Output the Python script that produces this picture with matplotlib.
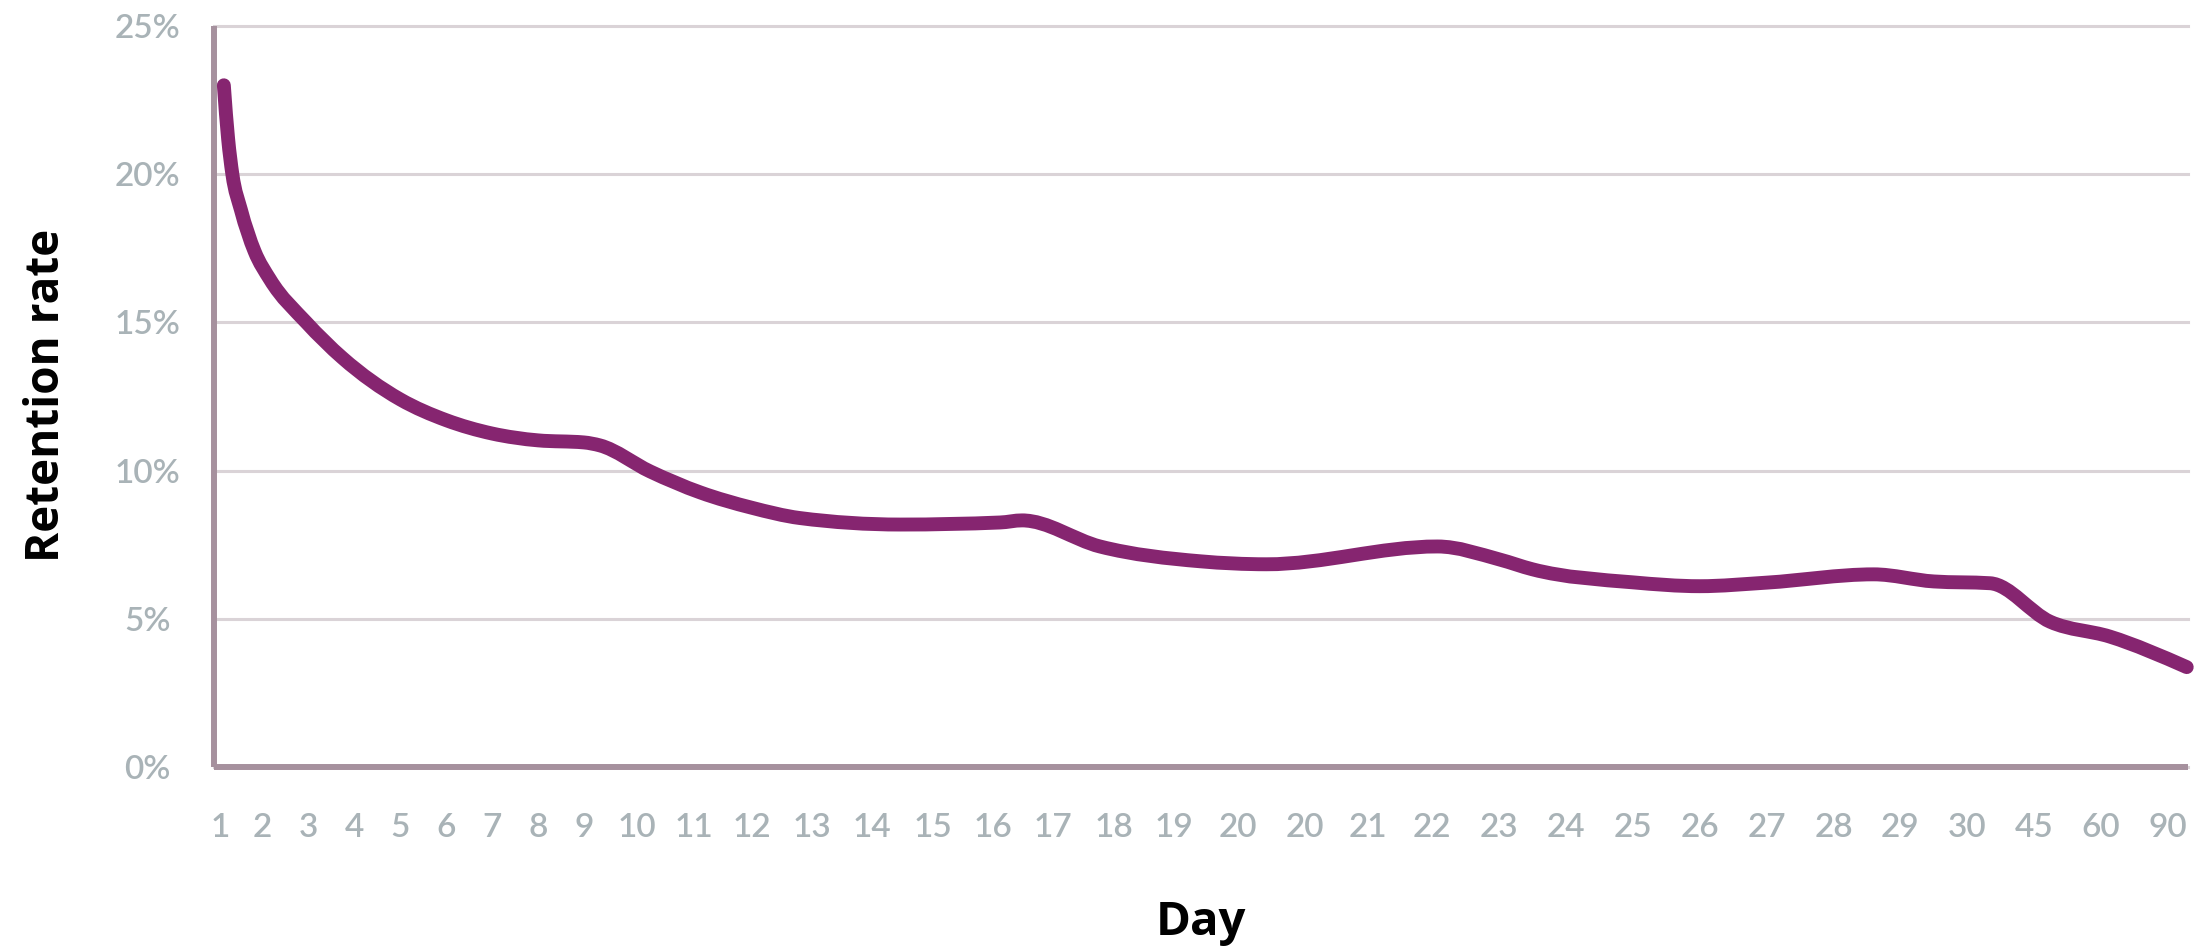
import numpy as np
import matplotlib
matplotlib.use("Agg")
import matplotlib.pyplot as plt
from matplotlib.path import Path
from matplotlib.patches import PathPatch

# day labels along the x axis (the repeated "20" is part of the original series)
days = ["1", "2", "3", "4", "5", "6", "7", "8", "9", "10",
        "11", "12", "13", "14", "15", "16", "17", "18", "19", "20",
        "20", "21", "22", "23", "24", "25", "26", "27", "28", "29",
        "30", "45", "60", "90"]

rate_ticks = [0, 5, 10, 15, 20, 25]
rate_labels = ["0%", "5%", "10%", "15%", "20%", "25%"]

# retention curve: position along the day labels (label index) and rate in %
curve_idx = [0.09, 0.19, 0.29, 0.49, 0.81, 1.16, 1.95, 2.74, 4.0, 5.0,
             6.0, 7.0, 8.0, 8.3, 9.23, 10.11, 11.0, 11.8, 13.47, 15.12,
             15.48, 16.77, 18.41, 19.43, 22.08, 23.01, 23.5, 25.0, 26.0,
             27.0, 28.6, 29.5, 30.34, 31.24, 32.13, 33.28]
curve_rate = [23.0, 21.2, 20.0, 18.8, 17.4, 16.45, 15.0, 13.8, 12.4, 11.7,
              11.25, 11.02, 10.95, 10.85, 9.97, 9.26, 8.75, 8.4, 8.18, 8.25,
              8.32, 7.44, 6.94, 6.84, 7.44, 7.0, 6.67, 6.23, 6.1,
              6.22, 6.5, 6.26, 6.2, 4.9, 4.4, 3.37]

LINE_COLOR = "#862570"
AXIS_COLOR = "#a6919e"
GRID_COLOR = "#dad3d7"
TICK_COLOR = "#a9b3b7"

# labels are laid out side by side with a fixed gap; "1" is a narrow digit
DIGIT_W, ONE_W, GAP = 21.0, 14.5, 24.9


def label_width(s):
    return sum(ONE_W if c == "1" else DIGIT_W for c in s)


def monotone_path(x, y):
    """cubic bezier path through the points, monotone in x (d3 curveMonotoneX)"""
    x = np.asarray(x, float)
    y = np.asarray(y, float)
    h = np.diff(x)
    d = np.diff(y) / h
    m = np.zeros_like(y)
    for i in range(1, len(x) - 1):
        s0, s1 = d[i - 1], d[i]
        p = (s0 * h[i] + s1 * h[i - 1]) / (h[i - 1] + h[i])
        m[i] = (np.sign(s0) + np.sign(s1)) * min(abs(s0), abs(s1), 0.5 * abs(p))
    m[0] = (3 * d[0] - m[1]) / 2
    m[-1] = (3 * d[-1] - m[-2]) / 2
    verts = [(x[0], y[0])]
    codes = [Path.MOVETO]
    for i in range(len(h)):
        verts += [(x[i] + h[i] / 3, y[i] + m[i] * h[i] / 3),
                  (x[i + 1] - h[i] / 3, y[i + 1] - m[i + 1] * h[i] / 3),
                  (x[i + 1], y[i + 1])]
        codes += [Path.CURVE4] * 3
    return Path(verts, codes)


widths = np.array([label_width(s) for s in days])
steps = (widths[:-1] + widths[1:]) / 2 + GAP
tick_x = np.concatenate([[0.0], np.cumsum(steps)])

fig = plt.figure(figsize=(21.94, 9.5), dpi=100, facecolor="white")
ax = fig.add_axes([214 / 2194, 183 / 950, 1974 / 2194, 741 / 950])

ax.set_xlim(tick_x[0] - 6, tick_x[-1] + 20)
ax.set_ylim(0, 25)

for side in ["top", "right"]:
    ax.spines[side].set_visible(False)
for side in ["left", "bottom"]:
    ax.spines[side].set_color(AXIS_COLOR)
    ax.spines[side].set_linewidth(4.3)
    ax.spines[side].set_capstyle("butt")

ax.set_yticks(rate_ticks)
ax.set_yticklabels(rate_labels, ha="center")
ax.set_xticks(tick_x)
ax.set_xticklabels(days)
ax.tick_params(axis="both", length=0, labelcolor=TICK_COLOR, labelsize=24)
ax.tick_params(axis="y", pad=48)
ax.tick_params(axis="x", pad=33)
for lab in ax.get_xticklabels() + ax.get_yticklabels():
    lab.set_family("Lato")
    lab.set_weight("semibold")

ax.yaxis.grid(True, color=GRID_COLOR, linewidth=2.2)
ax.xaxis.grid(False)
ax.set_axisbelow(True)
for gl in ax.get_ygridlines():
    gl.set_clip_on(False)

# map the curve's label positions onto the tick layout (the last point runs past "90")
idx = np.asarray(curve_idx)
cx = np.interp(idx, np.arange(len(days)), tick_x)
past = idx > len(days) - 1
cx[past] = tick_x[-1] + (idx[past] - (len(days) - 1)) * steps[-1]
curve = PathPatch(monotone_path(cx, curve_rate), facecolor="none",
                  edgecolor=LINE_COLOR, linewidth=10, capstyle="round",
                  joinstyle="round", clip_on=False, zorder=3)
ax.add_patch(curve)

ax.set_ylabel("Retention rate", fontsize=33, fontweight="bold",
              family="Open Sans", color="black", va="center")
ax.yaxis.set_label_coords(-0.0846, 0.502)
ax.set_xlabel("Day", fontsize=34, fontweight="bold",
              family="Open Sans", color="black", va="center")
ax.xaxis.set_label_coords(0.5, -0.2105)

plt.savefig("out.png", dpi=100, facecolor="white")
